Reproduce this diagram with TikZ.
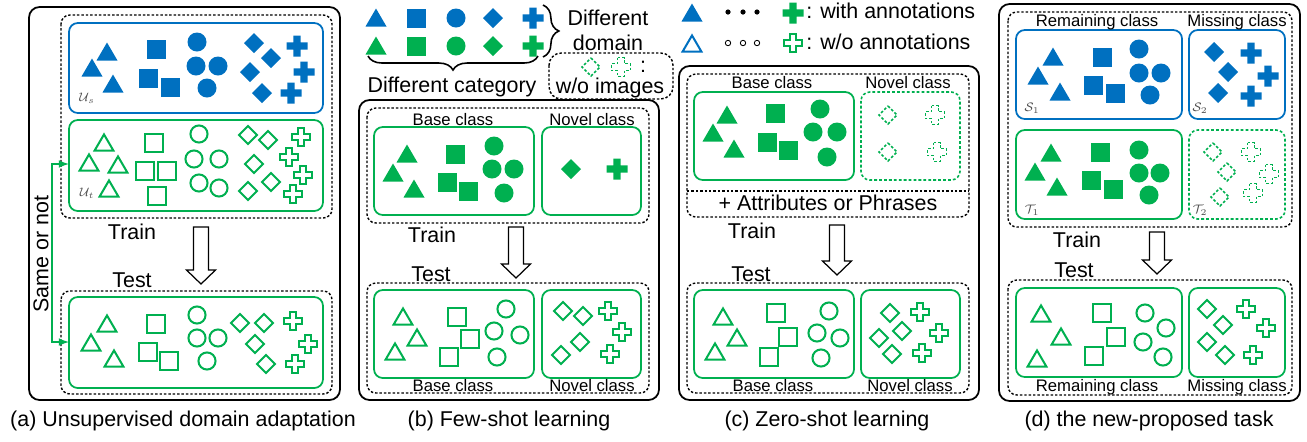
\documentclass[tikz,border=0pt]{standalone}
\usepackage{fontspec}
\setmainfont{Liberation Sans}
\usetikzlibrary{decorations.pathreplacing}
\definecolor{cblue}{RGB}{0,112,192}
\definecolor{cgreen}{RGB}{0,176,80}
\tikzset{
  panel/.style={draw,line width=1pt,rounded corners=6pt},
  dbox/.style={draw,line width=0.8pt,dash pattern=on 1.4pt off 1.1pt,rounded corners=5pt},
  bbox/.style={draw=cblue,line width=1pt,rounded corners=5pt},
  gbox/.style={draw=cgreen,line width=1pt,rounded corners=5pt},
  gdbox/.style={draw=cgreen,line width=0.9pt,dash pattern=on 1.6pt off 1.2pt,rounded corners=5pt},
  bfill/.style={fill=cblue},
  gfill/.style={fill=cgreen},
  bline/.style={draw=cblue,line width=1.15pt,scale=0.9},
  gline/.style={draw=cgreen,line width=1.15pt,scale=0.9},
  gdash/.style={draw=cgreen,line width=0.9pt,dash pattern=on 1.5pt off 1.1pt,scale=0.9},
  big/.style={font=\fontsize{12.2}{14.2}\selectfont},
  clslbl/.style={font=\fontsize{9.5}{11}\selectfont},
  setlbl/.style={text=black!70,font=\fontsize{7}{8}\selectfont,inner sep=0pt},
}
\begin{document}
\begin{tikzpicture}[x=0.02cm,y=-0.02cm,>=latex]
            \useasboundingbox (0,0) rectangle (1307,441);
            \def\trishape{(-10.5,8.5)--(10.5,8.5)--(0,-9.5)--cycle}
            \def\sqshape{(-9.5,-9.5) rectangle (9.5,9.5)}
            \def\cirshape{(0,0) circle (9.5)}
            \def\diashape{(0,-10)--(10,0)--(0,10)--(-10,0)--cycle}
            \def\crsshape{(-3.7,-10.5)--(3.7,-10.5)--(3.7,-3.7)--(10.5,-3.7)--(10.5,3.7)--(3.7,3.7)
                --(3.7,10.5)--(-3.7,10.5)--(-3.7,3.7)--(-10.5,3.7)--(-10.5,-3.7)--(-3.7,-3.7)--cycle}
            \def\tris#1#2{\foreach \x/\y in {#2} \path[shift={(\x,\y)},#1] \trishape;}
            \def\sqs#1#2{\foreach \x/\y in {#2} \path[shift={(\x,\y)},#1] \sqshape;}
            \def\cirs#1#2{\foreach \x/\y in {#2} \path[shift={(\x,\y)},#1] \cirshape;}
            \def\dias#1#2{\foreach \x/\y in {#2} \path[shift={(\x,\y)},#1] \diashape;}
            \def\crss#1#2{\foreach \x/\y in {#2} \path[shift={(\x,\y)},#1] \crsshape;}
            % panels
            \draw[panel] (29,7) rectangle (340,400);
            \draw[panel] (359,100) rectangle (659,400);
            \draw[panel] (679,66) rectangle (979,400);
            \draw[panel] (999,4) rectangle (1300,401);
            \draw[dbox] (61,15) rectangle (332,218);
            \draw[dbox] (61,291) rectangle (332,394);
            \draw[dbox] (367,108) rectangle (649,223);
            \draw[dbox] (367,283) rectangle (649,393);
            \draw[dbox] (687,74) rectangle (969,217);
            \draw[dbox,rounded corners=0pt] (687,191) -- (969,191);
            \draw[dbox] (687,283) rectangle (969,393);
            \draw[dbox] (1008,12) rectangle (1292,227);
            \draw[dbox] (1008,280) rectangle (1292,395);
            \draw[dbox,rounded corners=7pt] (549,53) rectangle (673,99);
            % (a)
            \draw[bbox] (69,23) rectangle (323,113);
            \draw[gbox] (69,120) rectangle (323,211);
            \draw[gbox] (69,297) rectangle (323,388);
            \tris{bfill}{107/52,92/68,113/84}
            \sqs{bfill}{156/49,148/78,170/87}
            \cirs{bfill}{197/42,196/66,218/66,207/88}
            \dias{bfill}{254/43,271/58,250/72,262/93}
            \crss{bfill}{297/46,304/72,291/93}
            \tris{gline}{104/143,89/163,118/165,109/189}
            \sqs{gline}{154/143,145/171,167/171,157/196}
            \cirs{gline}{199/134,194/159,219/159,199/183,219/188}
            \dias{gline}{248/135,268/140,254/164,248/191,271/182}
            \crss{gline}{301/137,289/157,303/175,293/194}
            \tris{gline}{107/324,91/343,114/359}
            \sqs{gline}{156/324,148/352,169/361}
            \cirs{gline}{197/315,197/338,218/338,207/361}
            \dias{gline}{240/323,264/323,255/344,266/364}
            \crss{gline}{293/321,308/344,295/364}
            \node[setlbl] (us) at (87,98) {$\mathcal{U}_s$};
            \node[setlbl] (ut) at (87,193) {$\mathcal{U}_t$};
            \coordinate (trg) at (69,164);
            \coordinate (tsg) at (69,342);
            \draw[cgreen,line width=1pt,<->] (trg) -- ++(-17,0) |- (tsg);
            \node[big,rotate=90] (same) at (41,254) {Same or not};
            \node[big] (traina) at (132,232) {Train};
            \node[big] (testa) at (132,280) {Test};
            \node[big] (capa) at (183,421) {(a) Unsupervised domain adaptation};
            % legend
            \tris{bfill}{376/18}\sqs{bfill}{416/18}\cirs{bfill}{456/18}\dias{bfill}{493/18}\crss{bfill}{533/18}
            \tris{gfill}{376/46}\sqs{gfill}{416/46}\cirs{gfill}{456/46}\dias{gfill}{493/46}\crss{gfill}{533/46}
            \draw[decorate,decoration={brace,amplitude=9pt},line width=0.9pt] (543,5) -- (543,57);
            \draw[decorate,decoration={brace,amplitude=8pt},line width=0.9pt] (538,56) -- (368,56);
            \node[big,align=center] (domain) at (608,30) {Different\\domain};
            \node[big] (categ) at (452,87) {Different category};
            \dias{gdash}{591/67}
            \crss{gdash}{621/67}
            \node[big] (colon) at (643,67) {:};
            \node[big] (noimg) at (610,88) {w/o images};
            \tris{bfill}{692/13}
            \foreach \x in {728,743,757} \fill (\x,12) circle (2.6);
            \crss{gfill}{793/13}
            \node[big,anchor=base west,inner sep=0pt] (withann) at (806,18) {: with annotations};
            \tris{bline}{692/44}
            \foreach \x in {728,743,757} \draw[line width=0.5pt] (\x,43) circle (2.7);
            \crss{gline}{793/43}
            \node[big,anchor=base west,inner sep=0pt] (woann) at (806,49) {: w/o annotations};
            % (b)
            \draw[gbox] (374,127) rectangle (534,215);
            \draw[gbox] (542,127) rectangle (641,215);
            \draw[gbox] (374,290) rectangle (534,378);
            \draw[gbox] (542,290) rectangle (641,378);
            \tris{gfill}{407/154,393/173,414/189}
            \sqs{gfill}{455/154,447/182,468/191}
            \cirs{gfill}{494/146,492/169,514/169,504/193}
            \dias{gfill}{571/169}
            \crss{gfill}{617/169}
            \tris{gline}{403/317,417/338,395/352}
            \sqs{gline}{457/317,470/339,449/357}
            \cirs{gline}{506/309,494/331,520/335,497/357}
            \dias{gline}{563/311,583/316,580/342,561/355}
            \crss{gline}{608/311,622/332,610/354}
            \node[clslbl] (baseb) at (453,120) {Base class};
            \node[clslbl] (novelb) at (592,120) {Novel class};
            \node[clslbl] (basebt) at (453,386) {Base class};
            \node[clslbl] (novelbt) at (592,386) {Novel class};
            \node[big] (trainb) at (432,235) {Train};
            \node[big] (testb) at (431,274) {Test};
            \node[big] (capb) at (509,421) {(b) Few-shot learning};
            % (c)
            \draw[gbox] (694,92) rectangle (854,180);
            \draw[gdbox] (861,92) rectangle (960,180);
            \draw[gbox] (694,290) rectangle (854,378);
            \draw[gbox] (861,290) rectangle (960,378);
            \tris{gfill}{727/115,713/133,734/149}
            \sqs{gfill}{775/113,767/142,788/150}
            \cirs{gfill}{820/109,813/132,837/132,827/157}
            \dias{gdash}{888/115,888/152}
            \crss{gdash}{935/115,937/152}
            \tris{gline}{723/317,737/338,715/352}
            \sqs{gline}{776/313,788/337,769/357}
            \cirs{gline}{829/311,817/333,840/338,821/358}
            \dias{gline}{890/313,902/331,879/338,892/354}
            \crss{gline}{920/312,939/333,922/353}
            \node[clslbl] (basec) at (772,83) {Base class};
            \node[clslbl] (novelc) at (908,83) {Novel class};
            \node[clslbl] (basect) at (773,386) {Base class};
            \node[clslbl] (novelct) at (910,386) {Novel class};
            \node[big] (attr) at (828,203) {+ Attributes or Phrases};
            \node[big] (trainc) at (752,231) {Train};
            \node[big] (testc) at (751,274) {Test};
            \node[big] (capc) at (827,421) {(c) Zero-shot learning};
            % (d)
            \draw[bbox] (1016,30) rectangle (1182,119);
            \draw[bbox] (1189,30) rectangle (1285,119);
            \draw[gbox] (1016,130) rectangle (1182,219);
            \draw[gdbox] (1189,130) rectangle (1285,219);
            \draw[gbox] (1016,288) rectangle (1182,377);
            \draw[gbox] (1189,288) rectangle (1285,377);
            \tris{bfill}{1053/57,1038/76,1060/92}
            \sqs{bfill}{1102/57,1093/85,1115/93}
            \cirs{bfill}{1139/49,1139/73,1161/73,1150/95}
            \dias{bfill}{1214/52,1228/72,1218/93}
            \crss{bfill}{1251/53,1268/76,1251/96}
            \tris{gfill}{1051/153,1035/172,1057/187}
            \sqs{gfill}{1100/152,1091/180,1113/189}
            \cirs{gfill}{1139/150,1139/173,1160/173,1149/195}
            \dias{gdash}{1213/152,1227/172,1220/197}
            \crss{gdash}{1251/152,1269/174,1253/193}
            \tris{gline}{1041/314,1061/337,1037/359}
            \sqs{gline}{1102/313,1116/337,1094/356}
            \cirs{gline}{1145/313,1166/328,1143/342,1163/357}
            \dias{gline}{1207/309,1223/325,1207/342,1225/355}
            \crss{gline}{1246/309,1266/328,1253/355}
            \node[setlbl] (s1) at (1032,108) {$\mathcal{S}_1$};
            \node[setlbl] (s2) at (1200,108) {$\mathcal{S}_2$};
            \node[setlbl] (t1) at (1032,210) {$\mathcal{T}_1$};
            \node[setlbl] (t2) at (1200,210) {$\mathcal{T}_2$};
            \node[clslbl] (remd) at (1097,22) {Remaining class};
            \node[clslbl] (missd) at (1237,22) {Missing class};
            \node[clslbl] (remdt) at (1097,387) {Remaining class};
            \node[clslbl] (missdt) at (1237,387) {Missing class};
            \node[big] (traind) at (1077,240) {Train};
            \node[big] (testd) at (1074,270) {Test};
            \node[big] (capd) at (1149,421) {(d) the new-proposed task};
            % train -> test
            \foreach \x/\t/\h/\e in {201/227/270/284,516/227/264/278,837/225/261/275,1157/232/260/274}
            \draw[line width=0.7pt,fill=white] (\x-7.5,\t)--(\x+7.5,\t)--(\x+7.5,\h)--(\x+14.5,\h)
                --(\x,\e)--(\x-14.5,\h)--(\x-7.5,\h)--cycle;
\end{tikzpicture}
\end{document}
